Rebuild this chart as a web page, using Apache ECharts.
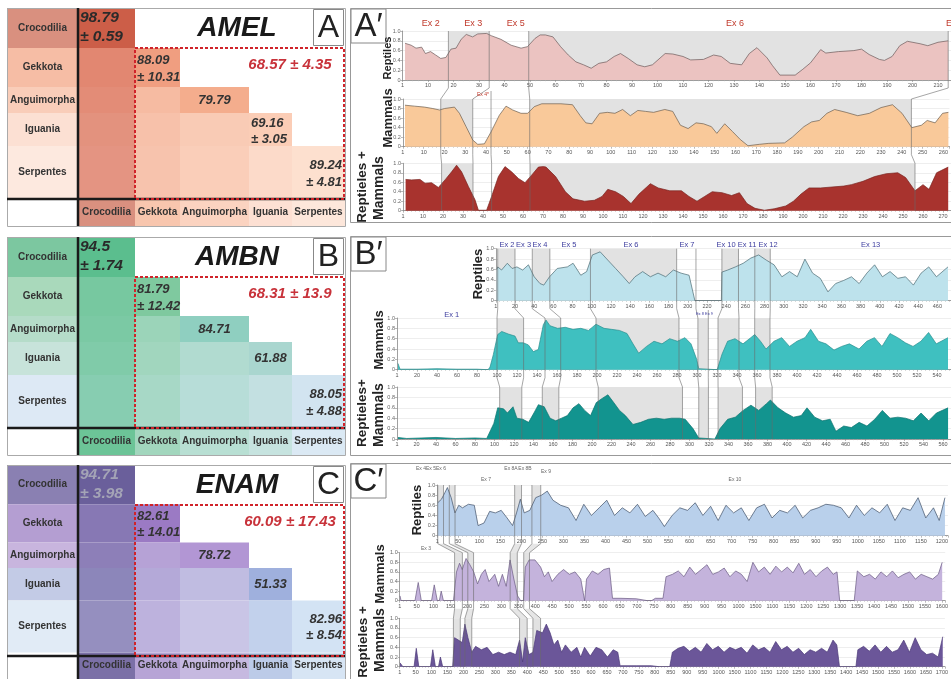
<!DOCTYPE html>
<html><head><meta charset="utf-8">
<script src="https://cdn.jsdelivr.net/npm/echarts@6/dist/echarts.min.js"></script>
<style>html,body{margin:0;padding:0;background:#fff}#c{width:951px;height:679px}</style>
</head><body><div id="c"></div>
<script>
// ================= DATA =================
const taxa = ['Crocodilia', 'Gekkota', 'Anguimorpha', 'Iguania', 'Serpentes'];

const amelMean = [98.79, 88.09, 79.79, 69.16, 89.24];
const amelSD   = [0.59, 10.31, null, 3.05, 4.81];
const amelAll  = [68.57, 4.35];
const ambnMean = [94.5, 81.79, 84.71, 61.88, 88.05];
const ambnSD   = [1.74, 12.42, null, null, 4.88];
const ambnAll  = [68.31, 13.9];
const enamMean = [94.71, 82.61, 78.72, 51.33, 82.96];
const enamSD   = [3.98, 14.01, null, null, 8.54];
const enamAll  = [60.09, 17.43];
const geneNames = ['AMEL', 'AMBN', 'ENAM'];

// AMEL conservation profiles [position, value]
const amelReptiles = [[1,0.75],[3.4,0.71],[5.3,0.65],[7.5,0.67],[9,0.54],[11,0.58],[13,0.51],[15,0.44],[17,0.46],[19,0.63],[21,0.65],[23,0.83],[25,0.93],[27.5,0.88],[29.5,0.94],[33,0.95],[35,0.9],[38.6,0.83],[42.6,0.71],[46.5,0.65],[49,0.68],[52,0.85],[54,0.92],[56,0.92],[59,0.88],[62,0.68],[65,0.51],[68,0.37],[71,0.31],[74,0.24],[77,0.34],[80,0.37],[83,0.48],[85.5,0.54],[88.5,0.44],[92,0.31],[95,0.27],[98,0.31],[103,0.54],[106,0.53],[110,0.48],[113,0.41],[118,0.42],[122,0.51],[125,0.48],[128.5,0.34],[133,0.31],[136,0.54],[139,0.66],[143,0.45],[145,0.3],[148,0.1],[154,0.1],[157,0.22],[160,0.35],[164,0.62],[166,0.55],[171,0.58],[177,0.6],[180,0.63],[183,0.52],[187,0.42],[189,0.4],[192,0.48],[195,0.7],[198,0.79],[203,0.74],[206,0.7],[210,0.77],[214,0.8]];
const amelMammals = [[1,0.87],[5.6,0.85],[10.4,0.83],[14.4,0.8],[17.6,0.77],[20,0.8],[24.8,0.83],[27.2,0.7],[30.4,0.42],[33.6,0.14],[36,0.05],[39.2,0.06],[42.4,0.31],[46.4,0.66],[49.6,0.85],[52.8,0.77],[56.8,0.7],[60,0.7],[63.2,0.84],[66.8,0.9],[76,0.9],[81.6,0.88],[85.3,0.65],[88,0.5],[91,0.48],[94.6,0.7],[98.3,0.72],[102,0.7],[105.7,0.78],[109.4,0.65],[113,0.76],[116.8,0.74],[120.6,0.72],[126,0.78],[129.8,0.74],[133.5,0.45],[137.2,0.38],[141,0.5],[144.6,0.48],[148.4,0.42],[151,0.28],[154.8,0.48],[158.5,0.32],[162.3,0.15],[166,0.02],[171.5,0.05],[176,0.07],[183.6,0.08],[187.3,0.2],[192.9,0.42],[196.6,0.52],[200.3,0.55],[204,0.7],[207.7,0.78],[213.2,0.72],[218.8,0.65],[224.4,0.7],[230,0.82],[235.5,0.88],[240.1,0.7],[244.8,0.4],[249.4,0.45],[252.2,0.55],[256,0.5],[259.6,0.7],[262.4,0.72]];
const amelBoth = [[1.3,0.66],[4.3,0.65],[8.5,0.66],[11,0.58],[14.3,0.59],[17.7,0.49],[21,0.65],[24.3,0.82],[26.8,0.96],[29.3,0.82],[32.7,0.51],[36,0.23],[37.7,0.01],[41.8,0.01],[44.3,0.3],[47.7,0.72],[51,0.93],[54.3,0.82],[57.7,0.68],[61,0.59],[64.3,0.75],[67.7,0.92],[70.2,0.93],[71.5,0.92],[76.3,0.72],[81.2,0.4],[85,0.25],[90.8,0.2],[95.7,0.22],[99.5,0.3],[102.4,0.45],[106.3,0.4],[110.2,0.3],[114,0.15],[118,0.35],[123.7,0.57],[127.6,0.48],[133.4,0.42],[139.2,0.42],[143,0.3],[147,0.2],[150.8,0.3],[154.6,0.4],[159.5,0.38],[164.3,0.32],[168.2,0.38],[172,0.15],[176,0.05],[180.7,0.01],[185.6,0.04],[191.4,0.1],[195.2,0.2],[199,0.35],[203,0.48],[208.8,0.48],[214.5,0.5],[220.4,0.52],[224.2,0.55],[230,0.62],[235.8,0.72],[241.6,0.78],[247.4,0.8],[251.3,0.7],[256,0.42],[260,0.55],[263,0.45],[266.8,0.8],[272.6,0.92]];

// AMBN
const ambnReptiles = [[1,0.6],[2,0.65],[6,0.59],[12,0.72],[17,0.62],[22,0.65],[28,0.59],[34,0.69],[40,0.46],[46,0.33],[50,0.3],[56,0.46],[64,0.62],[74.5,0.65],[80.5,0.72],[88.5,0.49],[94.6,0.56],[100.6,0.88],[108.7,0.94],[116.7,0.78],[124.8,0.62],[132.8,0.46],[139,0.33],[145,0.46],[153,0.56],[161,0.46],[169,0.53],[177,0.46],[185,0.59],[193,0.53],[201.3,0.49],[207.4,0],[235,0],[235.5,0.55],[241.6,0.59],[249.6,0.65],[257.7,0.72],[265.7,0.82],[273.8,0.88],[281.8,0.78],[289.9,0.69],[298,0.46],[306,0.56],[314,0.46],[322,0.8],[330,0.53],[338,0.43],[346,0.17],[354,0.33],[362.4,0.39],[370.5,0.46],[378.5,0.33],[386.5,0.53],[394.6,0.69],[402.7,0.46],[410.7,0.56],[418.8,0.43],[426.8,0.46],[435,0.3],[443,0.53],[451,0.65],[459,0.46],[471,0.65]];
const ambnMammals = [[1,0.12],[3,0.01],[20,0.01],[40,0.02],[60,0.01],[80,0.01],[91,0],[93,0.05],[96.3,0.29],[100.7,0.68],[104.7,0.74],[111.3,0.69],[118,0.65],[121.3,0.52],[126.3,0.52],[131.3,0.48],[136.3,0.35],[141.3,0.39],[146.3,0.87],[149,0.96],[153,0.85],[160.6,0.8],[168.3,0.82],[176,0.78],[183.8,0.8],[191.5,0.76],[199,0.88],[207,0.8],[214.7,0.78],[222.4,0.76],[230,0.7],[236,0.5],[241.7,0.32],[249.5,0.45],[257,0.55],[265,0.5],[272.7,0.6],[280.4,0.55],[288,0.62],[294,0.5],[299.7,0.2],[301.7,0.02],[303,0],[320,0],[321,0.05],[325,0.3],[330.6,0.55],[338,0.6],[346,0.5],[353.8,0.62],[357.7,0.68],[363.5,0.55],[369,0.4],[377,0.55],[384.7,0.62],[392.5,0.45],[400,0.55],[408,0.62],[413.7,0.78],[421.5,0.55],[429,0.5],[437,0.38],[444.6,0.45],[452.4,0.5],[462,0.4],[469.8,0.55],[477.5,0.62],[485,0.45],[493,0.7],[500.7,0.62],[508.4,0.52],[516,0.45],[523.9,0.55],[531.6,0.72],[539.3,0.5],[551,0.62]];
const ambnBoth = [[1,0.03],[10,0.01],[40,0.03],[60,0.01],[80,0.02],[92,0.01],[93.4,0.02],[99.3,0.3],[103.3,0.6],[109.3,0.58],[113.2,0.5],[119,0.62],[123,0.4],[129,0.38],[135,0.32],[141,0.52],[145,0.66],[151,0.62],[157,0.4],[162.8,0.35],[168.7,0.4],[174.7,0.45],[180.6,0.6],[186.6,0.68],[192.5,0.55],[198.5,0.45],[204.4,0.7],[210.4,0.78],[216.3,0.85],[222.3,0.7],[228.2,0.55],[234.2,0.45],[242,0.28],[250,0.32],[258,0.38],[266,0.4],[274,0.38],[281.7,0.4],[289.7,0.4],[295.6,0.38],[303.6,0.2],[309.5,0.02],[311,0],[326,0],[327.3,0.02],[331.3,0.2],[339.2,0.38],[347,0.42],[355,0.55],[363,0.65],[371,0.55],[379,0.68],[383,0.75],[390.8,0.6],[398.7,0.5],[406.6,0.42],[414.6,0.45],[420.5,0.6],[428.4,0.42],[436.4,0.35],[444.3,0.38],[450.2,0.15],[458.2,0.25],[466,0.22],[474,0.32],[482,0.25],[490,0.38],[497.8,0.55],[505.7,0.4],[513.7,0.42],[521.6,0.4],[529.6,0.35],[537.5,0.5],[545.4,0.35],[553.3,0.5],[565.2,0.6]];

// ENAM
const enamReptiles = [[1,0.65],[10,0.72],[18,0.85],[24,0.95],[33,0.75],[42,0.45],[51,0.6],[60,0.55],[74,0.62],[88,0.6],[97,0.2],[111,0.25],[124.5,0.48],[138,0.45],[152,0.5],[166,0.35],[179,0.2],[188.4,0.45],[197.5,0.72],[206.7,0.45],[220,0.5],[234,0.75],[248,0.8],[261.5,0.88],[275,0.7],[293.5,0.6],[312,0.55],[330,0.3],[348.4,0.62],[366.6,0.4],[385,0.55],[403,0.7],[421.5,0.4],[440,0.55],[458,0.45],[476,0.62],[494.6,0.38],[512.8,0.5],[526.5,0.35],[540,0.18],[558.5,0.4],[576.8,0.55],[595,0.5],[613.4,0.65],[631.6,0.4],[650,0.58],[668,0.3],[686.5,0.6],[704.7,0.45],[723,0.55],[741,0.3],[759.6,0.55],[778,0.62],[796,0.35],[814.4,0.5],[832.6,0.45],[851,0.6],[869,0.35],[887.5,0.5],[905.7,0.55],[924,0.62],[942,0.6],[960.6,0.55],[979,0.35],[997,0.6],[1015.4,0.4],[1033.7,0.55],[1052,0.45],[1070,0.62],[1088.5,0.3],[1106.8,0.55],[1125,0.5],[1143.4,0.75],[1161.7,0.35],[1180,0.55],[1193.6,0.3],[1207.3,0.75]];
const enamMammals = [[1,0.1],[4,0],[45,0],[54.7,0.38],[63.8,0],[94,0],[102,0.33],[111,0],[117,0],[122.5,0.2],[129,0],[158.6,0],[167.6,0.6],[176.6,0.78],[184.5,0.65],[195.8,0.88],[207,0.75],[218.4,0.6],[229.7,0.35],[241,0.55],[252.2,0.65],[263.5,0.4],[280.5,0.55],[291.7,0.3],[303,0.55],[314.3,0.3],[325.6,0.85],[336.9,0.45],[348,0.1],[357,0],[365,0],[370.7,0.7],[382,0.85],[399,0.85],[415.9,0.7],[427,0.5],[438.5,0.6],[449.7,0.4],[466.7,0.55],[483.6,0.65],[500.5,0.55],[517.5,0.6],[534.4,0.45],[545.7,0],[551.3,0.45],[568.3,0.62],[585.2,0.55],[602,0.65],[619,0.68],[628,0.05],[652.9,0.05],[698,0.04],[731.9,0],[743,0],[754.5,0.05],[777,0.05],[786,0.5],[805,0.55],[822,0.62],[839,0.5],[856,0.7],[873,0.55],[890,0.65],[906.8,0.75],[923.8,0.55],[940.7,0.6],[957.6,0.68],[974.5,0.5],[991.5,0.62],[1008.4,0.55],[1025.3,0.4],[1042.3,0.8],[1059.2,0.6],[1076,0.7],[1093,0.55],[1110,0.72],[1127,0.6],[1143.9,0.7],[1160.8,0.58],[1177.7,0.78],[1194.6,0.55],[1211.5,0.65],[1228.5,0.5],[1245.4,0.62],[1262.3,0.7],[1279.3,0.55],[1290.5,0.6],[1298.4,0],[1341.3,0],[1350.4,0.62],[1369.6,0.5],[1386.5,0.55],[1403.4,0.45],[1420.3,0.6],[1437.3,0.5],[1454,0.62],[1471,0.48],[1488,0.55],[1505,0.6],[1521.9,0.45],[1538.8,0.55],[1555.8,0.5],[1572.7,0.45],[1589.6,0.55],[1600.9,0.8]];
const enamBoth = [[1,0.08],[10,0],[45,0],[52,0.38],[60,0],[96.5,0],[103.7,0.35],[112,0],[121.6,0],[127.6,0.2],[134.8,0],[166,0],[172,0.6],[184,0.55],[196,0.5],[204.4,0.88],[214,0.6],[226,0.3],[238,0.42],[256,0.35],[274,0.4],[292,0.25],[310,0.3],[327.8,0.25],[345.8,0.3],[363.8,0.25],[375.8,0.55],[385.4,0.1],[393.7,0.6],[405.7,0.25],[417.7,0.3],[429.7,0.75],[447.7,0.7],[459.7,0.88],[471.7,0.7],[483.6,0.45],[495.6,0.55],[507.6,0.3],[519.6,0.45],[537.6,0.3],[555.6,0.4],[567.6,0.2],[579.5,0.4],[597.5,0.22],[615.5,0.4],[633.5,0.35],[651.4,0.2],[669.4,0.35],[683.8,0.3],[691,0.02],[741.3,0.02],[789.3,0.02],[813.3,0],[846.8,0],[855,0.3],[873,0.38],[891,0.42],[909,0.32],[927,0.4],[945,0.3],[963,0.48],[981,0.35],[999,0.42],[1017,0.3],[1035,0.4],[1053,0.35],[1071,0.4],[1089,0.28],[1107,0.45],[1125,0.35],[1143,0.4],[1161,0.3],[1179,0.52],[1197,0.35],[1215,0.42],[1233,0.3],[1251,0.38],[1268.7,0.25],[1286.7,0.35],[1304.7,0.3],[1322.7,0.38],[1340.6,0.3],[1358.6,0.55],[1370.6,0.45],[1379,0],[1430.5,0],[1436.5,0.35],[1454.5,0.42],[1472.5,0.32],[1490.5,0.45],[1508.4,0.3],[1526.4,0.42],[1544.4,0.3],[1562.4,0.35],[1580.4,0.55],[1598.4,0.3],[1616.3,0.6],[1634.3,0.35],[1652.3,0.25],[1670.3,0.28],[1688.3,0.2],[1702.7,0.62]];

// shaded (grey) exon ranges per profile
const amelReptilesShade = [[18,34],[49.5,214]];
const amelMammalsShade  = [[18.2,33.6],[61,244.6]];
const amelBothShade     = [[19.3,35],[63.5,256]];
const ambnReptilesShade = [[2,20],[38,56.3],[98.6,188.4],[235.5,252.8],[269.8,285.9]];
const ambnMammalsShade  = [[100,126.6],[148,163.7],[199,282],[300.9,311.3],[321,342],[357.7,373]];
const ambnBothShade     = [[105.3,128],[149,166],[206.4,292.8],[309.5,319.4],[329.3,354.3],[367.8,384.8]];
const enamReptilesShade = [[1.1,14.8],[28.5,42.2],[184,200.3],[225,246]];
const enamMammalsShade  = [[162,185],[201,218],[326,347],[366,383]];
const enamBothShade     = [[168.4,190],[204.4,226],[375.8,399.7],[417.7,441.7]];

// exon boundary correspondences: [reptiles, mammals, reptiles+mammals]
const amelLinks = [[18,18.2,19.3],[34,33.6,35],[null,42.4,44.3],[49.5,61,63.5],[214,244.6,256]];
const ambnLinks = [[2,100,105.3],[20,126.6,128],[38,148,149],[56.3,163.7,166],[98.6,199,206.4],[188.4,282,292.8],[208.5,300.9,309.5],[null,311.3,319.4],[235.5,321,329.3],[252.8,342,354.3],[269.8,357.7,367.8],[285.9,373,384.8]];
const enamLinks = [[1.1,162,168.4],[14.8,185,190],[28.5,201,204.4],[42.2,218,226],[184,326,375.8],[200.3,347,399.7],[225,366,417.7],[246,383,441.7]];

// exon labels
const amelExons = ['Ex 2','Ex 3','Ex 5','Ex 6','Ex 7'];
const ambnExons = ['Ex 2','Ex 3','Ex 4','Ex 5','Ex 6','Ex 7','Ex 10','Ex 11','Ex 12','Ex 13'];
const enamExons = ['Ex 4','Ex 5','Ex 6','Ex 7','Ex 8A','Ex 8B','Ex 9','Ex 10'];
const tickLabelOverrides = {1050: '1500'};

// ================= LAYOUT / STYLE =================
const FONT = '"Liberation Sans", Arial, sans-serif';
const COL_W = [71, 57, 45, 69, 43, 53];
const ROW_H = [40, 39, 26, 33, 53, 27];
const COL_E = [0]; COL_W.forEach(w => COL_E.push(COL_E[COL_E.length-1] + w));
const ROW_E = [0]; ROW_H.forEach(h => ROW_E.push(ROW_E[ROW_E.length-1] + h));
const TEXT_Y = [[10, 29], [52, 69], [92], [115, 131], [157, 174]];
const LEFT_TOPS = [8, 237, 465];
const PAL = [
  {row:['#d9907f','#f6bda5','#f9cdb9','#fce0d3','#fde9df'], col:['#d9907f','#f8c6ae','#fbd3c0','#fde0d3','#fde7db'],
   diag:['#cc5e48','#f09e80','#f4ad8d','#fbcdb6','#fde0cf'], body:['#d9705a','#f5b398','#f8c2a8','#fbd3c0'], crocText:'#2a2a2a'},
  {row:['#7cc7a0','#a9d9bb','#b5dcc9','#c7e3da','#dde9f5'], col:['#6cc497','#a2d6bd','#b8dfd3','#c6e3df','#dbe9f4'],
   diag:['#5bbe8e','#7fc99f','#8fcfc0','#a9d6cf','#d2e4f0'], body:['#62c194','#90d0b2','#a7d8cc','#b8dcd8'], crocText:'#2a2a2a'},
  {row:['#8a80b2','#b49ed2','#c8b5de','#c3cbe6','#e1ebf6'], col:['#7b70a7','#b7a4d6','#c6b9e0','#bccbe8','#d7e5f4'],
   diag:['#6a5f9b','#9b7ac4','#b296d4','#9fb0dd','#d3e3f4'], body:['#7468a7','#ae9ad2','#beb5df','#b5c6e8'], crocText:'#a4a4b6'}
];
const PLOTS = [
  {l:402.5, t:31,    h:49,   ppu:2.55,   iv:10},
  {l:402.9, t:99,    h:47.7, ppu:2.085,  iv:10},
  {l:403,   t:163.3, h:47.4, ppu:2.0,    iv:10},
  {l:495.8, t:248.7, h:52,   ppu:0.96,   iv:20},
  {l:397,   t:318,   h:51.7, ppu:1.0,    iv:20},
  {l:397,   t:387,   h:52,   ppu:0.975,  iv:20},
  {l:437.3, t:485,   h:50.7, ppu:0.423,  iv:50},
  {l:399.7, t:552.7, h:48,   ppu:0.3425, iv:50},
  {l:399.7, t:618.3, h:48.4, ppu:0.3225, iv:50}
];
const FILLS = ['#ebc3c1','#f9c99a','#a8332e','#bde2ec','#3fc0c0','#12948f','#b9d0eb','#c4b3dc','#6b5699'];
const LINES = ['#6b5a5a','#6b5e50','#7a2420','#4a6a72','#2b8f8f','#0e7470','#3f4f66','#6a5a82','#4c3a78'];
const SHADE = '#e2e2e2';
const W = 951;

function hex(c){return [1,3,5].map(i=>parseInt(c.substr(i,2),16));}
function mix(a,b,t){const A=hex(a),B=hex(b);return 'rgb('+A.map((v,i)=>Math.round(v*(1-t)+B[i]*t)).join(',')+')';}

const chart = echarts.init(document.getElementById('c'));
const grids = [], xAxes = [], yAxes = [], series = [];

// ---- left matrices ----
const means = [amelMean, ambnMean, enamMean], sds = [amelSD, ambnSD, enamSD];
LEFT_TOPS.forEach((top, pi) => {
  grids.push({left: 7, top: top, width: COL_E[6], height: ROW_E[6]});
  xAxes.push({gridIndex: pi, type:'value', min:0, max:COL_E[6], show:false});
  yAxes.push({gridIndex: pi, type:'value', min:0, max:ROW_E[6], inverse:true, show:false});
  const data = [];
  for (let r=0;r<5;r++) data.push([-1, r]);
  for (let c=0;c<5;c++) data.push([c, 5]);
  for (let r=0;r<5;r++) for (let c=0;c<=r;c++) data.push([c, r]);
  const pal = PAL[pi], M = means[pi], S = sds[pi];
  series.push({
    type:'custom', xAxisIndex: pi, yAxisIndex: pi, data, silent:true, animation:false, z: 2,
    renderItem(params, api) {
      const c = api.value(0), r = api.value(1);
      const p0 = api.coord([COL_E[c+1], ROW_E[r]]), p1 = api.coord([COL_E[c+2], ROW_E[r+1]]);
      let fill, children = [];
      if (c === -1) fill = pal.row[r];
      else if (r === 5) fill = pal.col[c];
      else if (c === r) fill = pal.diag[c];
      else fill = mix(pal.body[c], pal.row[r], 0.3);
      children.push({type:'rect', shape:{x:p0[0], y:p0[1], width:p1[0]-p0[0], height:p1[1]-p0[1]}, style:{fill}});
      if (c === -1 || r === 5) {
        const name = c === -1 ? taxa[r] : taxa[c];
        children.push({type:'text', x:(p0[0]+p1[0])/2, y:(p0[1]+p1[1])/2,
          style:{text:name, fill:'#333', font:'bold 10px ' + FONT, align:'center', verticalAlign:'middle', textAlign:'center', textVerticalAlign:'middle'}});
      } else if (c === r) {
        const lines = S[c] != null ? [String(M[c]), '± ' + S[c]] : [String(M[c])];
        const size = c === 0 ? 15.5 : 13;
        const color = c === 0 ? pal.crocText : '#333';
        let align, tx;
        if (lines.length === 1) { align = 'center'; tx = (p0[0]+p1[0])/2; }
        else if (c === 4) { align = 'right'; tx = p1[0] - 3; }
        else { align = 'left'; tx = p0[0] + 2; }
        const ys = lines.length === 1 ? [c === 2 ? TEXT_Y[2][0] : (ROW_E[r]+ROW_E[r+1])/2] : TEXT_Y[r];
        lines.forEach((t, k) => {
          const py = api.coord([0, ys[k]])[1];
          children.push({type:'text', x:tx, y:py,
            style:{text:t, fill:color, font:'italic bold ' + size + 'px ' + FONT, align, verticalAlign:'middle', textAlign:align, textVerticalAlign:'middle'}});
        });
      }
      return {type:'group', children};
    }
  });
});

// ---- right profiles ----
const profiles = [amelReptiles, amelMammals, amelBoth, ambnReptiles, ambnMammals, ambnBoth, enamReptiles, enamMammals, enamBoth];
const shades = [amelReptilesShade, amelMammalsShade, amelBothShade, ambnReptilesShade, ambnMammalsShade, ambnBothShade, enamReptilesShade, enamMammalsShade, enamBothShade];
PLOTS.forEach((p, k) => {
  const gi = k + 3;
  grids.push({left: p.l, top: p.t, height: p.h, right: 0});
  xAxes.push({gridIndex: gi, type:'value', min:0, max:(W - p.l) / p.ppu, interval:p.iv,
    axisLine:{lineStyle:{color:'#888', width:0.8}}, axisTick:{length:2, lineStyle:{color:'#888', width:0.6}},
    minorTick:{show:true, splitNumber:5, length:1.2, lineStyle:{color:'#aaa', width:0.5}},
    splitLine:{show:false},
    axisLabel:{fontSize:5.5, color:'#555', margin:2.5, fontFamily:FONT, showMaxLabel:false,
      formatter: v => v === 0 ? '1' : (tickLabelOverrides[v] && k >= 7 ? tickLabelOverrides[v] : String(v))}});
  yAxes.push({gridIndex: gi, type:'value', min:0, max:1, interval:0.2,
    axisLine:{show:true, lineStyle:{color:'#888', width:0.8}}, axisTick:{show:true, length:2, lineStyle:{color:'#888', width:0.6}},
    splitLine:{show:true, lineStyle:{color:'#e3e3e3', width:0.6}},
    axisLabel:{fontSize:5.5, color:'#666', margin:2, fontFamily:FONT,
      formatter: v => v === 0 ? '0' : v.toFixed(1)}});
  series.push({type:'custom', xAxisIndex:gi, yAxisIndex:gi, data:shades[k], silent:true, animation:false, z:1,
    renderItem(params, api){
      const a = api.coord([api.value(0), 1]), b = api.coord([api.value(1), 0]);
      return {type:'rect', shape:{x:a[0], y:a[1], width:b[0]-a[0], height:b[1]-a[1]}, style:{fill:SHADE}};
    }});
  series.push({type:'line', xAxisIndex:gi, yAxisIndex:gi, data:profiles[k], symbol:'none', silent:true, animation:false, z:3,
    lineStyle:{width:0.7, color:LINES[k]}, areaStyle:{color:FILLS[k], opacity:1}});
});

chart.setOption({animation:false, textStyle:{fontFamily:FONT}, grid:grids, xAxis:xAxes, yAxis:yAxes, series});

// ---- decorations ----
const G = [];
function txt(x, y, text, font, fill, align, rot) {
  G.push({type:'text', x, y, rotation: rot || 0, z:100,
    style:{text, font, fill, align: align||'center', verticalAlign:'middle', textAlign: align||'center', textVerticalAlign:'middle'}});
}
function line(pts, stroke, w, dash) {
  G.push({type:'polyline', z:99, shape:{points:pts}, style:{stroke, lineWidth:w, fill:null, lineDash: dash || null}});
}
function poly(pts, fill) {
  G.push({type:'polygon', z:97, shape:{points:pts}, style:{fill, stroke:null}});
}
function box(x, y, w, h, stroke, lw, fill, dash) {
  G.push({type:'rect', z: fill ? 98 : 99, shape:{x, y, width:w, height:h}, style:{stroke, lineWidth:lw, fill: fill || null, lineDash: dash || null}});
}
const alls = [amelAll, ambnAll, enamAll];
LEFT_TOPS.forEach((top, pi) => {
  box(7.5, top + 0.5, COL_E[6], ROW_E[6], '#aaa', 1);
  line([[7 + COL_W[0], top], [7 + COL_W[0], top + ROW_E[6]]], '#1a1a1a', 2.5);
  line([[7, top + ROW_E[5]], [7 + COL_E[6], top + ROW_E[5]]], '#1a1a1a', 2.5);
  box(7 + COL_E[2], top + ROW_E[1], COL_E[6] - COL_E[2] - 1, ROW_E[5] - ROW_E[1], '#d0232a', 2, null, [3, 2]);
  txt(237, top + 20, geneNames[pi], 'italic bold 28px ' + FONT, '#1a1a1a');
  box(313.5, top + 1.5, 30, 36, '#888', 1, '#fff');
  txt(328.5, top + 20, ['A','B','C'][pi], '32px ' + FONT, '#222');
  txt(290, top + 57, alls[pi][0] + ' ± ' + alls[pi][1], 'italic bold 15px ' + FONT, '#c8323a');
});

// right panel frames
[[8, 214], [236, 219], [463, 230]].forEach((f, i) => {
  box(350.5, f[0] + 0.5, 640, f[1], '#999', 1);
  box(351, f[0] + 1, 35, 34, '#888', 1, '#fff');
  txt(368.5, f[0] + 19, ['A′','B′','C′'][i], '33px ' + FONT, '#222');
});

// vertical titles
const R = Math.PI / 2;
txt(388, 58, 'Reptiles', 'bold 11px ' + FONT, '#222', 'center', R);
txt(388, 118, 'Mammals', 'bold 13px ' + FONT, '#222', 'center', R);
txt(362, 187, 'Reptieles +', 'bold 13.5px ' + FONT, '#222', 'center', R);
txt(379, 188, 'Mammals', 'bold 14px ' + FONT, '#222', 'center', R);
txt(478, 274, 'Reptiles', 'bold 13px ' + FONT, '#222', 'center', R);
txt(379, 340, 'Mammals', 'bold 13px ' + FONT, '#222', 'center', R);
txt(362, 413, 'Reptieles+', 'bold 13.5px ' + FONT, '#222', 'center', R);
txt(379, 415, 'Mammals', 'bold 14px ' + FONT, '#222', 'center', R);
txt(417, 510, 'Reptiles', 'bold 13px ' + FONT, '#222', 'center', R);
txt(380, 574, 'Mammals', 'bold 13px ' + FONT, '#222', 'center', R);
txt(363, 642, 'Reptieles +', 'bold 13.5px ' + FONT, '#222', 'center', R);
txt(380, 640, 'Mammals', 'bold 14px ' + FONT, '#222', 'center', R);

// exon boundary links
const px = (gi, v) => chart.convertToPixel({xAxisIndex: gi}, v);
[[amelLinks, 3, false], [ambnLinks, 6, false], [enamLinks, 9, true]].forEach(([links, g0, bands]) => {
  const pR = PLOTS[g0-3], pM = PLOTS[g0-2], pB = PLOTS[g0-1];
  links.forEach(L => {
    const pts = [];
    if (L[0] != null) { const x = px(g0, L[0]); pts.push([x, pR.t], [x, pR.t + pR.h + 8]); }
    else pts.push([px(g0+1, L[1]), pM.t - 8]);
    const xm = px(g0+1, L[1]); pts.push([xm, pM.t], [xm, pM.t + pM.h + 8]);
    const xb = px(g0+2, L[2]); pts.push([xb, pB.t], [xb, pB.t + pB.h]);
    line(pts, '#6a6a6a', 0.6);
  });
  if (bands) {
    for (let i = 0; i + 1 < links.length; i += 2) {
      const a = links[i], b = links[i+1];
      poly([[px(g0,a[0]), pR.t+pR.h+8],[px(g0,b[0]), pR.t+pR.h+8],[px(g0+1,b[1]), pM.t],[px(g0+1,a[1]), pM.t]], '#e6e6e6');
      poly([[px(g0+1,a[1]), pM.t+pM.h+8],[px(g0+1,b[1]), pM.t+pM.h+8],[px(g0+2,b[2]), pB.t],[px(g0+2,a[2]), pB.t]], '#e6e6e6');
    }
  }
});

// exon labels
const amelLabelX = [430.7, 473.3, 515.7, 735, 955];
amelExons.forEach((t, i) => txt(amelLabelX[i], 24, t, '9px ' + FONT, '#c0392b'));
txt(483, 95, 'Ex 4*', '5px ' + FONT, '#c0392b');
const ambnLabelX = [507, 523.6, 540, 569, 631, 687, 726, 747, 768, 870.7];
ambnExons.forEach((t, i) => txt(ambnLabelX[i], 245, t, '7.5px ' + FONT, '#4040a0'));
txt(451.7, 315, 'Ex 1', '7.5px ' + FONT, '#4040a0');
txt(704.5, 314, 'Ex 8 Ex 9', '4px ' + FONT, '#4040a0');
const enamLabelX = [421, 431, 441, 486, 511, 525, 546, 735];
const enamLabelY = [469, 469, 469, 480, 469, 469, 472, 480];
enamExons.forEach((t, i) => txt(enamLabelX[i], enamLabelY[i], t, '5px ' + FONT, '#666'));
txt(426, 549, 'Ex 3', '5px ' + FONT, '#666');

chart.setOption({graphic: {elements: G}});
</script></body></html>
